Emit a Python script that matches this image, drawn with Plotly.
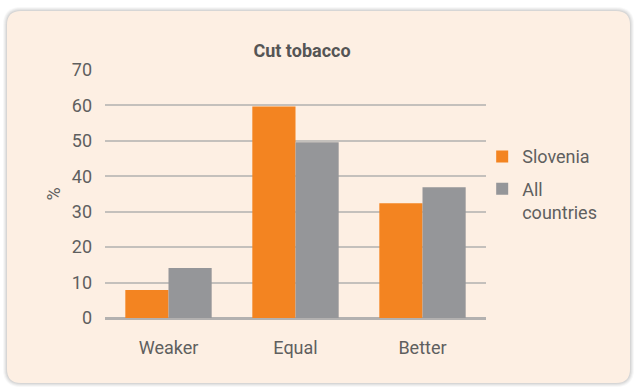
import plotly.graph_objects as go

# Chart data
categories = ["Weaker", "Equal", "Better"]
slovenia = [7.9, 59.7, 32.4]
all_countries = [14.1, 49.6, 36.9]
y_ticks = [0, 10, 20, 30, 40, 50, 60, 70]

W, H = 634, 387
M_L, M_R, M_T, M_B = 105, 148, 70, 69
PW, PH = W - M_L - M_R, H - M_T - M_B


def px_to_paper(x, y):
    return (x - M_L) / PW, (H - M_B - y) / PH


def rounded_rect(x0, y0, x1, y1, r):
    # path in paper coordinates for a rounded rectangle given in pixels
    def p(x, y):
        a, b = px_to_paper(x, y)
        return f"{a:.5f},{b:.5f}"
    return (
        f"M {p(x0 + r, y0)} L {p(x1 - r, y0)} Q {p(x1, y0)} {p(x1, y0 + r)} "
        f"L {p(x1, y1 - r)} Q {p(x1, y1)} {p(x1 - r, y1)} "
        f"L {p(x0 + r, y1)} Q {p(x0, y1)} {p(x0, y1 - r)} "
        f"L {p(x0, y0 + r)} Q {p(x0, y0)} {p(x0 + r, y0)} Z"
    )


shapes = []
# soft shadow around the card
for i, op in [(4, 0.05), (3, 0.07), (2, 0.09), (1, 0.12)]:
    shapes.append(dict(
        type="path", xref="paper", yref="paper", layer="below",
        path=rounded_rect(7 - i, 11 - i, 630 + i, 383 + i, 14 + i),
        fillcolor=f"rgba(120,120,120,{op})", line=dict(width=0),
    ))
shapes.append(dict(
    type="path", xref="paper", yref="paper", layer="below",
    path=rounded_rect(7, 11, 630, 383, 14),
    fillcolor="#fdefe3", line=dict(width=0),
))

fig = go.Figure()
fig.add_trace(go.Bar(x=categories, y=slovenia, name="Slovenia", legendgroup="a",
                     marker=dict(color="#f38421", line=dict(width=0))))
fig.add_trace(go.Bar(x=categories, y=all_countries, name="All<br>countries",
                     legendgroup="b",
                     marker=dict(color="#959699", line=dict(width=0))))

font_family = "Roboto, 'DejaVu Sans', sans-serif"
fig.update_layout(
    width=W, height=H,
    margin=dict(l=M_L, r=M_R, t=M_T, b=M_B),
    paper_bgcolor="white", plot_bgcolor="rgba(0,0,0,0)",
    barmode="group", bargap=0.32, bargroupgap=0,
    font=dict(family=font_family, color="#5f5f5f", size=18),
    title=dict(text="<b>Cut tobacco</b>", x=302 / W, xanchor="center",
               y=1 - 51 / H, yanchor="middle",
               font=dict(size=18, color="#555555")),
    shapes=shapes,
    showlegend=True,
    legend=dict(x=0.99, y=0.725, xanchor="left", yanchor="top",
                valign="top", bgcolor="rgba(0,0,0,0)",
                font=dict(size=18, color="#5f5f5f"),
                tracegroupgap=6, itemwidth=30),
)
fig.update_xaxes(showgrid=False, ticks="", showline=False,
                 tickfont=dict(size=18), ticklabelstandoff=17)
fig.update_yaxes(range=[0, 70], tickvals=y_ticks, showgrid=True,
                 gridcolor="#c4c0bc", gridwidth=1.5,
                 zeroline=True, zerolinecolor="#b3b1b0", zerolinewidth=3,
                 showline=False, ticks="", ticklabelstandoff=12,
                 tickfont=dict(size=18),
                 title=dict(text="%", standoff=6, font=dict(size=18)))

fig.write_html("out.html")
